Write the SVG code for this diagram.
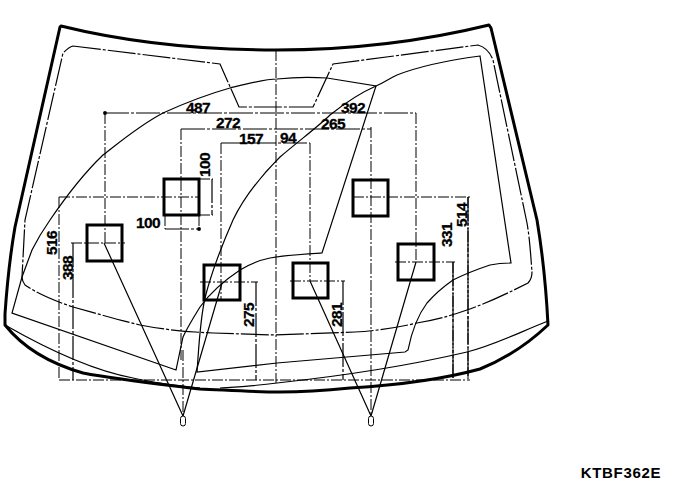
<svg xmlns="http://www.w3.org/2000/svg" width="688" height="500" viewBox="0 0 688 500">
<style>
.o{fill:none;stroke:#000;stroke-width:3;stroke-linejoin:round}
.t{fill:none;stroke:#000;stroke-width:1.2}
.b{fill:none;stroke:#000;stroke-width:1.2;stroke-dasharray:28 2 3 2}
.d{fill:none;stroke:#000;stroke-width:1;stroke-dasharray:11 2 2 2}
.m{fill:none;stroke:#000;stroke-width:1.2;stroke-dasharray:24 2 3 2;marker-start:url(#a);marker-end:url(#a)}
.s{fill:#fff;fill-opacity:0;stroke:#000;stroke-width:3}
.x{font:bold 15.500px "Liberation Sans",Arial,sans-serif;fill:#000;text-anchor:middle;letter-spacing:-.7px;stroke:#000;stroke-width:.3}
.k{font:bold 15px "Liberation Sans",Arial,sans-serif;fill:#000;text-anchor:middle;letter-spacing:.7px}
</style>
<defs>
<marker id="a" markerWidth="5" markerHeight="5" refX="2.500" refY="2.500" orient="auto"><circle cx="2.500" cy="2.500" r="1.600" fill="#000"/></marker>
</defs>
<rect width="688" height="500" fill="#fff"/>
<g id="glass">
<path class="o" d="M61 26C130 43 200 50 276 50C350 50 420 42 489 25L491 28L537 220C542 250 546 285 548 325C530 342 510 357 480 369C440 380 400 385 350 388C320 391 300 392 280 392C250 392 225 390 200 389C160 384 120 380 83 373C55 365 25 350 5 325L5 314C7 285 11 250 15 227L60 27Z"/>
<path class="t" d="M5 325C40 345 90 370 133 378C155 383 170 385 200 388"/>
<path class="t" d="M548 321C520 332 495 345 467 352C420 363 360 374 277 383C255 386 235 387 220 388"/>
<path class="b" d="M73 46L220 64L239 107L313 107L333 64L478 45C485 47 490 52 493 60L527 223C530 240 531 260 532 272C532 278 530 281 528 283C510 292 490 302 467 310C450 316 435 320 417 323C395 328 375 331 355 332L275 335L213 333C190 332 165 330 140 325C115 319 95 313 73 307C55 301 38 294 25 285C23 282 22 280 22 277L25 220L63 53C66 50 69 47 73 46Z"/>
<path class="t" d="M176 370L12 313L22 277L32 250C37 240 43 230 50 220C65 198 82 175 103 155C120 142 140 125 163 113C185 103 205 95 230 88C250 83 265 79 277 79C295 77 312 77 327 78L376 86L322 253C305 254 287 255 270 258C260 260 250 264 240 270C225 280 210 293 200 307C192 320 187 328 183 337L176 370Z"/>
<path class="t" d="M376 86C385 82 390 78 397 75C420 66 450 60 480 56L511 263C500 263 495 264 490 265C475 270 465 274 453 280C443 287 434 295 427 303C418 315 412 330 408 350L405 352L277 363L197 372C199 345 200 320 205 298C212 270 222 245 233 220C245 195 262 175 280 157C300 140 320 125 330 115C345 103 360 93 376 86Z"/>
</g>
<g id="connectors">
<path class="t" d="M183 416L104 243M183 416L222 283M371 416L310 281M371 416L416 262"/>
<path class="d" d="M276 50V383M183 350V416M371 127V416M181 129V360M105 113V243M221 143V300M310 143V281M416 113V262M59 197V380M468 197V379M453 262V378M59 380H470M59 197H199M353 197H470M395 262H455M71 243H125M200 282H258M290 281H345M199 215V229M165 215V229"/>
<path class="d" d="M199 179H213M199 215H213"/>
<path class="m" d="M105 113H416M181 129H371M221 143H310M73 243V380M256 282V380M343 281V380M453 262V378M468 197V379M212 179V215M165 229H199"/>
</g>
<g id="sq1"><rect class="s" x="87" y="225" width="35" height="36"/></g>
<g id="sq2"><rect class="s" x="164" y="179" width="35" height="36"/></g>
<g id="sq3"><rect class="s" x="204" y="265" width="36" height="35"/></g>
<g id="sq4"><rect class="s" x="293" y="263" width="35" height="35"/></g>
<g id="sq5"><rect class="s" x="353" y="180" width="35" height="36"/></g>
<g id="sq6"><rect class="s" x="398" y="244" width="36" height="36"/></g>
<g id="eye1"><rect x="180.500" y="416" width="5" height="10" rx="2.500" fill="#fff" stroke="#000"/></g>
<g id="eye2"><rect x="368.500" y="416" width="5" height="10" rx="2.500" fill="#fff" stroke="#000"/></g>
<g id="labels">
<text class="x" x="198" y="113">487</text>
<text class="x" x="228" y="128">272</text>
<text class="x" x="251" y="144">157</text>
<text class="x" x="353" y="113">392</text>
<text class="x" x="333" y="129">265</text>
<text class="x" x="288" y="143">94</text>
<text class="x" x="148" y="228">100</text>
<text class="x" transform="translate(209.500 165) rotate(-90)">100</text>
<text class="x" transform="translate(57 243) rotate(-90)">516</text>
<text class="x" transform="translate(73 268) rotate(-90)">388</text>
<text class="x" transform="translate(254 315) rotate(-90)">275</text>
<text class="x" transform="translate(342 315) rotate(-90)">281</text>
<text class="x" transform="translate(452 235) rotate(-90)">331</text>
<text class="x" transform="translate(466.500 215) rotate(-90)">514</text>
<text class="k" x="621" y="478">KTBF362E</text>
</g>
</svg>
